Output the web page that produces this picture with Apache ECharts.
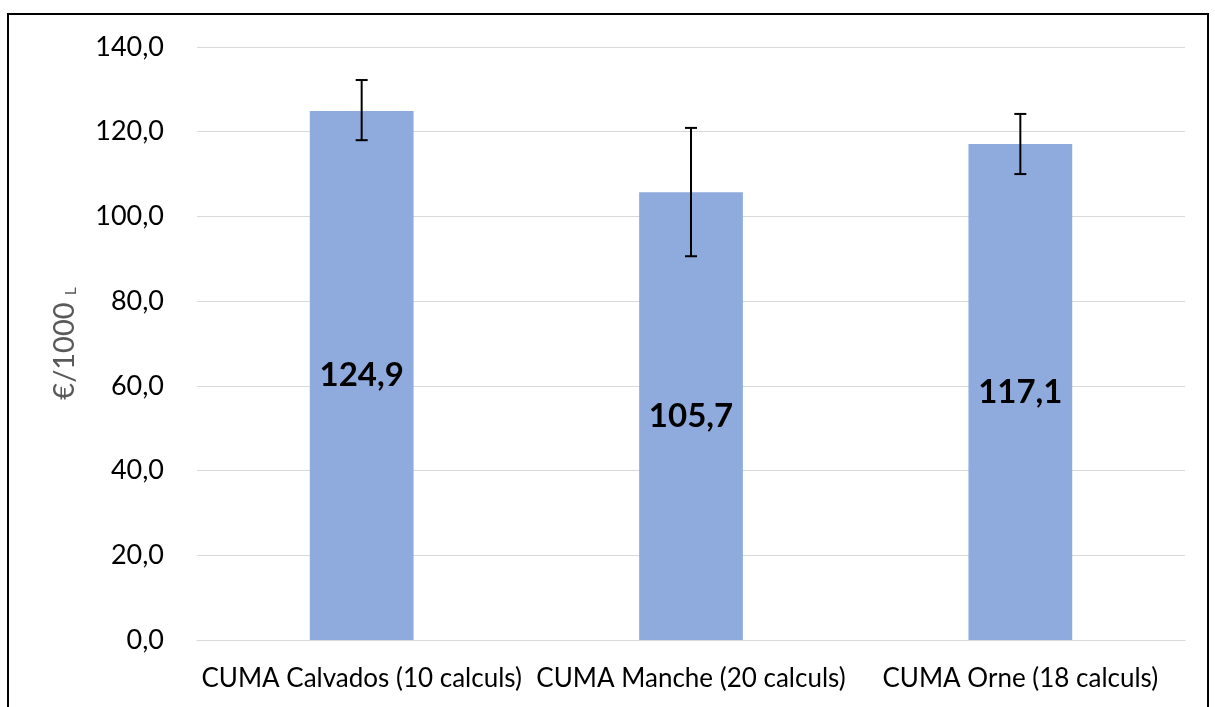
<!DOCTYPE html>
<html>
<head>
<meta charset="utf-8">
<script src="https://cdn.jsdelivr.net/npm/echarts@6/dist/echarts.min.js"></script>
<style>
html,body{margin:0;padding:0;background:#fff;overflow:hidden;}
#chart{position:absolute;left:0;top:0;width:1215px;height:707px;}
#frame{position:absolute;left:7px;top:13px;width:1202px;height:720px;border:2px solid #000;box-sizing:border-box;pointer-events:none;}
</style>
</head>
<body>
<div id="chart"></div>
<div id="frame"></div>
<script>
const categories = ['CUMA Calvados (10 calculs)', 'CUMA Manche (20 calculs)', 'CUMA Orne (18 calculs)'];
const values = [124.9, 105.7, 117.1];
const errLow = [118.0, 90.6, 110.0];
const errHigh = [132.2, 120.9, 124.2];
const yTicks = [0, 20, 40, 60, 80, 100, 120, 140];

const fmt = v => v.toFixed(1).replace('.', ',');
const font = 'Lato, "Open Sans", sans-serif';

const chart = echarts.init(document.getElementById('chart'));
chart.setOption({
  animation: false,
  grid: {left: 197, right: 30, top: 47, bottom: 67},
  xAxis: {
    type: 'category',
    data: categories,
    axisTick: {show: false},
    axisLine: {lineStyle: {color: '#d9d9d9', width: 1}},
    axisLabel: {color: '#000', fontSize: 26, fontFamily: font, margin: 26, interval: 0}
  },
  yAxis: {
    type: 'value',
    min: yTicks[0], max: yTicks[yTicks.length - 1], interval: 20,
    axisLine: {show: false},
    axisTick: {show: false},
    splitLine: {lineStyle: {color: '#d9d9d9', width: 1}},
    axisLabel: {color: '#000', fontSize: 27, fontFamily: font, margin: 33, formatter: fmt},
    name: '{a|€/1000 }{b|L}',
    nameLocation: 'middle',
    nameGap: 118,
    nameRotate: 90,
    nameTextStyle: {
      rich: {
        a: {fontSize: 29, color: '#595959', fontFamily: font},
        b: {fontSize: 15, color: '#595959', fontFamily: font, verticalAlign: 'bottom', padding: [10, 0, 0, 0]}
      }
    }
  },
  series: [
    {
      type: 'bar',
      data: values,
      barWidth: '31.5%',
      itemStyle: {color: '#8faadc'},
      label: {
        show: true, position: 'inside', formatter: p => fmt(p.value),
        color: '#000', fontSize: 33, fontWeight: 'bold', fontFamily: font
      }
    },
    {
      type: 'custom',
      data: categories.map((c, i) => [i, errLow[i], errHigh[i]]),
      z: 10,
      renderItem: (params, api) => {
        const lo = api.coord([api.value(0), api.value(1)]);
        const hi = api.coord([api.value(0), api.value(2)]);
        const hw = 6;
        const style = {stroke: '#000', lineWidth: 2};
        return {
          type: 'group',
          children: [
            {type: 'line', shape: {x1: hi[0], y1: hi[1], x2: lo[0], y2: lo[1]}, style},
            {type: 'line', shape: {x1: hi[0] - hw, y1: hi[1], x2: hi[0] + hw, y2: hi[1]}, style},
            {type: 'line', shape: {x1: lo[0] - hw, y1: lo[1], x2: lo[0] + hw, y2: lo[1]}, style}
          ]
        };
      }
    }
  ]
});
</script>
</body>
</html>
